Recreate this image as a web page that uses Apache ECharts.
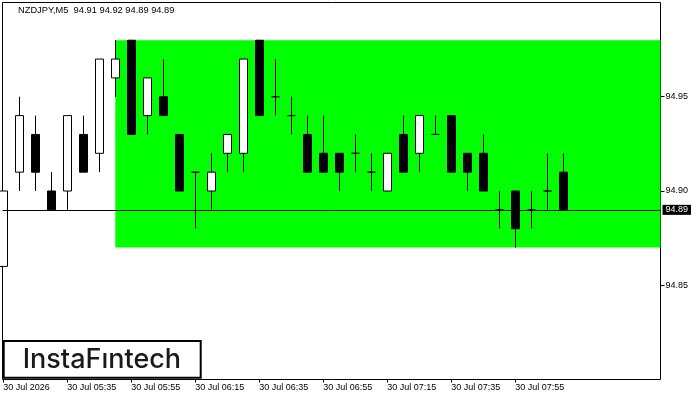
<!DOCTYPE html>
<html><head><meta charset="utf-8">
<script src="https://cdn.jsdelivr.net/npm/echarts@6/dist/echarts.min.js"></script>
<style>html,body{margin:0;padding:0;background:#fff}#c{width:700px;height:400px}</style>
</head><body><div id="c"></div>
<script>
// Candle times (M5)
const times = ["05:15","05:20","05:25","05:30","05:35","05:40","05:45","05:50","05:55","06:00","06:05","06:10","06:15","06:20","06:25","06:30","06:35","06:40","06:45","06:50","06:55","07:00","07:05","07:10","07:15","07:20","07:25","07:30","07:35","07:40","07:45","07:50","07:55","08:00","08:05","08:10"];
const opens  = [94.86,94.91,94.93,94.90,94.90,94.93,94.92,94.96,94.98,94.94,94.95,94.93,94.91,94.90,94.92,94.92,94.98,94.95,94.94,94.93,94.92,94.92,94.92,94.91,94.90,94.93,94.92,94.93,94.94,94.92,94.92,94.89,94.90,94.89,94.90,94.91];
const closes = [94.90,94.94,94.91,94.89,94.94,94.91,94.97,94.97,94.93,94.96,94.94,94.90,94.91,94.91,94.93,94.97,94.94,94.95,94.94,94.91,94.91,94.91,94.92,94.91,94.92,94.91,94.94,94.93,94.91,94.91,94.90,94.89,94.88,94.89,94.90,94.89];
const lows   = [94.86,94.90,94.90,94.89,94.89,94.91,94.91,94.95,94.93,94.93,94.94,94.90,94.88,94.89,94.91,94.91,94.94,94.94,94.93,94.91,94.91,94.90,94.91,94.90,94.90,94.91,94.91,94.93,94.91,94.90,94.90,94.88,94.87,94.88,94.89,94.89];
const highs  = [94.90,94.95,94.94,94.91,94.94,94.94,94.97,94.98,94.98,94.96,94.97,94.93,94.91,94.92,94.93,94.97,94.98,94.97,94.95,94.94,94.94,94.92,94.93,94.92,94.92,94.94,94.94,94.94,94.94,94.92,94.93,94.90,94.90,94.90,94.92,94.92];
// Axis ticks
const timeTickIndex = [0,4,8,12,16,20,24,28,32];
const timeTickLabels = ["30 Jul 2026","30 Jul 05:35","30 Jul 05:55","30 Jul 06:15","30 Jul 06:35","30 Jul 06:55","30 Jul 07:15","30 Jul 07:35","30 Jul 07:55"];
const priceTicks = [94.85, 94.90, 94.95];
// Pattern zone and current price
const zoneStartIndex = 7;
const zoneTop = 94.98;
const zoneBottom = 94.87;
const lastPrice = 94.89;
const titleText = "NZDJPY,M5  94.91 94.92 94.89 94.89";

const candleData = times.map((t, i) => [i, opens[i], closes[i], lows[i], highs[i]]);
const FONT = "Liberation Sans";

const chart = echarts.init(document.getElementById('c'), null, {renderer: 'canvas'});
chart.setOption({
  animation: false,
  backgroundColor: '#fff',
  grid: {left: 2.5, top: 2.5, right: 39.5, bottom: 20.5, show: true, borderColor: '#000', borderWidth: 1, backgroundColor: '#fff'},
  xAxis: {
    type: 'value', min: -0.05, max: 41.075,
    axisLine: {show: false, onZero: false},
    splitLine: {show: false},
    axisTick: {show: true, customValues: timeTickIndex, length: 3, lineStyle: {color: '#000'}},
    axisLabel: {
      customValues: timeTickIndex,
      formatter: v => timeTickLabels[timeTickIndex.indexOf(v)] || '',
      align: 'left', margin: 4, color: '#000', fontSize: 9, fontFamily: FONT
    }
  },
  yAxis: {
    type: 'value', position: 'right', min: 94.80, max: 95.00, scale: true,
    axisLine: {show: false, onZero: false},
    splitLine: {show: false},
    axisTick: {show: true, customValues: priceTicks, length: 4, lineStyle: {color: '#000'}},
    axisLabel: {customValues: priceTicks, formatter: v => v.toFixed(2), margin: 5, color: '#000', fontSize: 9, fontFamily: FONT}
  },
  series: [
    {
      type: 'line', data: [], z: 1, clip: false, silent: true,
      markArea: {
        silent: true,
        itemStyle: {color: '#00ff00', opacity: 1},
        data: [[{xAxis: zoneStartIndex, yAxis: zoneTop}, {xAxis: 'max', yAxis: zoneBottom}]]
      }
    },
    {
      type: 'line', data: [], z: 2, clip: false, silent: true,
      markLine: {
        silent: true, symbol: 'none',
        lineStyle: {color: '#000', width: 1, type: 'solid'},
        label: {show: true, position: 'end', distance: 2, formatter: lastPrice.toFixed(2), color: '#fff', backgroundColor: '#000', padding: [1, 3, 0, 3], fontSize: 9, fontFamily: FONT},
        data: [{yAxis: lastPrice}]
      }
    },
    {
      type: 'candlestick', z: 3, barWidth: 9,
      encode: {x: 0, y: [1, 2, 3, 4]},
      data: candleData,
      itemStyle: {color: '#fff', color0: '#000', borderColor: '#000', borderColor0: '#000', borderColorDoji: '#000', borderWidth: 1}
    }
  ],
  graphic: [
    {type: 'text', left: 18, top: 6, z: 100, style: {text: titleText, fill: '#000', font: '9.3px "Liberation Sans"'}},
    {type: 'rect', z: 100, shape: {x: 3.7, y: 341, width: 197, height: 36.7}, style: {fill: '#fff', stroke: '#000', lineWidth: 2}},
    {type: 'text', z: 101, x: 22.7, y: 360, style: {text: 'InstaFıntech', fill: '#1a1a1a', font: '500 27px Inter', verticalAlign: 'middle', align: 'left'}}
  ]
});
</script></body></html>
